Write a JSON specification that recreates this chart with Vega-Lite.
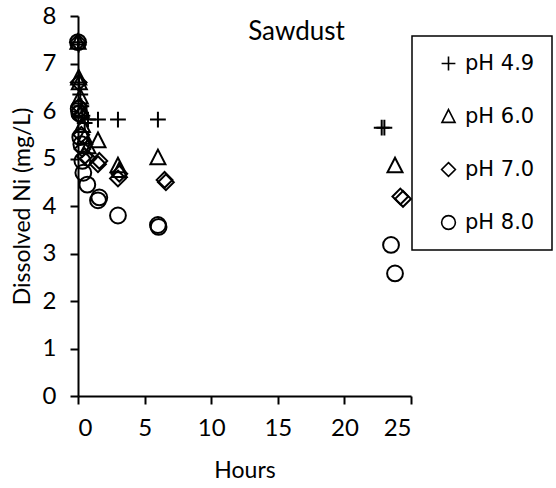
{
  "$schema": "https://vega.github.io/schema/vega-lite/v6.json",
  "width": 333,
  "height": 380,
  "autosize": {"type": "none"},
  "padding": {"left": 78, "top": 16, "right": 145, "bottom": 92},
  "background": "white",
  "title": {
    "text": "Sawdust",
    "font": "Lato",
    "fontSize": 26,
    "fontWeight": "normal",
    "color": "black",
    "anchor": "middle",
    "dx": 52,
    "offset": -41
  },
  "data": {
    "values": [
      {"hours": 0, "ni": 7.45, "series": "pH 4.9"},
      {"hours": 0.05, "ni": 7.4, "series": "pH 4.9"},
      {"hours": 0.08, "ni": 6.6, "series": "pH 4.9"},
      {"hours": 0.17, "ni": 6.35, "series": "pH 4.9"},
      {"hours": 0.25, "ni": 6.1, "series": "pH 4.9"},
      {"hours": 0.33, "ni": 5.9, "series": "pH 4.9"},
      {"hours": 0.5, "ni": 5.75, "series": "pH 4.9"},
      {"hours": 0.75, "ni": 5.82, "series": "pH 4.9"},
      {"hours": 1.5, "ni": 5.82, "series": "pH 4.9"},
      {"hours": 3, "ni": 5.82, "series": "pH 4.9"},
      {"hours": 6, "ni": 5.82, "series": "pH 4.9"},
      {"hours": 22.8, "ni": 5.65, "series": "pH 4.9"},
      {"hours": 23.0, "ni": 5.65, "series": "pH 4.9"},

      {"hours": 0, "ni": 7.45, "series": "pH 6.0"},
      {"hours": 0.05, "ni": 6.7, "series": "pH 6.0"},
      {"hours": 0.1, "ni": 6.6, "series": "pH 6.0"},
      {"hours": 0.17, "ni": 6.3, "series": "pH 6.0"},
      {"hours": 0.25, "ni": 6.0, "series": "pH 6.0"},
      {"hours": 0.33, "ni": 5.7, "series": "pH 6.0"},
      {"hours": 0.5, "ni": 5.45, "series": "pH 6.0"},
      {"hours": 0.75, "ni": 5.25, "series": "pH 6.0"},
      {"hours": 1.5, "ni": 5.38, "series": "pH 6.0"},
      {"hours": 3, "ni": 4.85, "series": "pH 6.0"},
      {"hours": 3.1, "ni": 4.75, "series": "pH 6.0"},
      {"hours": 6, "ni": 5.02, "series": "pH 6.0"},
      {"hours": 23.8, "ni": 4.85, "series": "pH 6.0"},

      {"hours": 0, "ni": 7.45, "series": "pH 7.0"},
      {"hours": 0.05, "ni": 6.6, "series": "pH 7.0"},
      {"hours": 0.1, "ni": 6.1, "series": "pH 7.0"},
      {"hours": 0.17, "ni": 5.9, "series": "pH 7.0"},
      {"hours": 0.25, "ni": 5.5, "series": "pH 7.0"},
      {"hours": 0.33, "ni": 5.2, "series": "pH 7.0"},
      {"hours": 0.5, "ni": 5.05, "series": "pH 7.0"},
      {"hours": 0.75, "ni": 5.0, "series": "pH 7.0"},
      {"hours": 1.5, "ni": 4.88, "series": "pH 7.0"},
      {"hours": 1.6, "ni": 4.95, "series": "pH 7.0"},
      {"hours": 3, "ni": 4.58, "series": "pH 7.0"},
      {"hours": 3.1, "ni": 4.68, "series": "pH 7.0"},
      {"hours": 6.5, "ni": 4.55, "series": "pH 7.0"},
      {"hours": 6.6, "ni": 4.5, "series": "pH 7.0"},
      {"hours": 24.2, "ni": 4.2, "series": "pH 7.0"},
      {"hours": 24.4, "ni": 4.15, "series": "pH 7.0"},

      {"hours": 0, "ni": 7.45, "series": "pH 8.0"},
      {"hours": 0.05, "ni": 6.05, "series": "pH 8.0"},
      {"hours": 0.1, "ni": 5.95, "series": "pH 8.0"},
      {"hours": 0.17, "ni": 5.45, "series": "pH 8.0"},
      {"hours": 0.25, "ni": 5.3, "series": "pH 8.0"},
      {"hours": 0.33, "ni": 4.95, "series": "pH 8.0"},
      {"hours": 0.4, "ni": 4.7, "series": "pH 8.0"},
      {"hours": 0.7, "ni": 4.45, "series": "pH 8.0"},
      {"hours": 1.5, "ni": 4.12, "series": "pH 8.0"},
      {"hours": 1.6, "ni": 4.18, "series": "pH 8.0"},
      {"hours": 3, "ni": 3.8, "series": "pH 8.0"},
      {"hours": 6, "ni": 3.6, "series": "pH 8.0"},
      {"hours": 6.05, "ni": 3.56, "series": "pH 8.0"},
      {"hours": 23.5, "ni": 3.18, "series": "pH 8.0"},
      {"hours": 23.8, "ni": 2.58, "series": "pH 8.0"}
    ]
  },
  "mark": {"type": "point", "filled": false, "strokeWidth": 2, "size": 250, "opacity": 1},
  "encoding": {
    "x": {
      "field": "hours",
      "type": "quantitative",
      "title": "Hours",
      "scale": {"domain": [0, 25], "nice": false, "zero": true},
      "axis": {"values": [0, 5, 10, 15, 20, 25], "titlePadding": 19, "labelPadding": 12}
    },
    "y": {
      "field": "ni",
      "type": "quantitative",
      "title": "Dissolved Ni (mg/L)",
      "scale": {"domain": [0, 8], "nice": false},
      "axis": {"values": [0, 1, 2, 3, 4, 5, 6, 7, 8], "titlePadding": 8, "labelPadding": 14}
    },
    "shape": {
      "field": "series",
      "type": "nominal",
      "title": null,
      "scale": {
        "domain": ["pH 4.9", "pH 6.0", "pH 7.0", "pH 8.0"],
        "range": [
          "M-1,0H1M0,-1V1",
          "M0,-1L0.95,0.85L-0.95,0.85Z",
          "M0,-1L1,0L0,1L-1,0Z",
          "M1,0A1,1,0,1,1,-1,0A1,1,0,1,1,1,0Z"
        ]
      },
      "legend": {
        "orient": "none",
        "legendX": 334,
        "legendY": 20,
        "strokeColor": "black",
        "fillColor": "white",
        "padding": 17,
        "symbolOffset": 9,
        "rowPadding": 31,
        "labelOffset": 6,
        "labelFont": "DejaVu Sans",
        "labelFontSize": 21,
        "labelColor": "black",
        "symbolSize": 190,
        "symbolStrokeWidth": 1.6,
        "symbolStrokeColor": "black",
        "symbolFillColor": "transparent"
      }
    },
    "color": {"value": "black"}
  },
  "config": {
    "view": {"stroke": null},
    "legend": {"strokeWidth": 1.5},
    "axis": {
      "grid": false,
      "domainColor": "black",
      "domainWidth": 2,
      "tickColor": "black",
      "tickWidth": 2,
      "tickSize": 8,
      "labelFont": "Lato",
      "labelFontSize": 24,
      "labelColor": "black",
      "titleFont": "Lato",
      "titleFontSize": 23,
      "titleFontWeight": "normal",
      "titleColor": "black"
    }
  }
}
